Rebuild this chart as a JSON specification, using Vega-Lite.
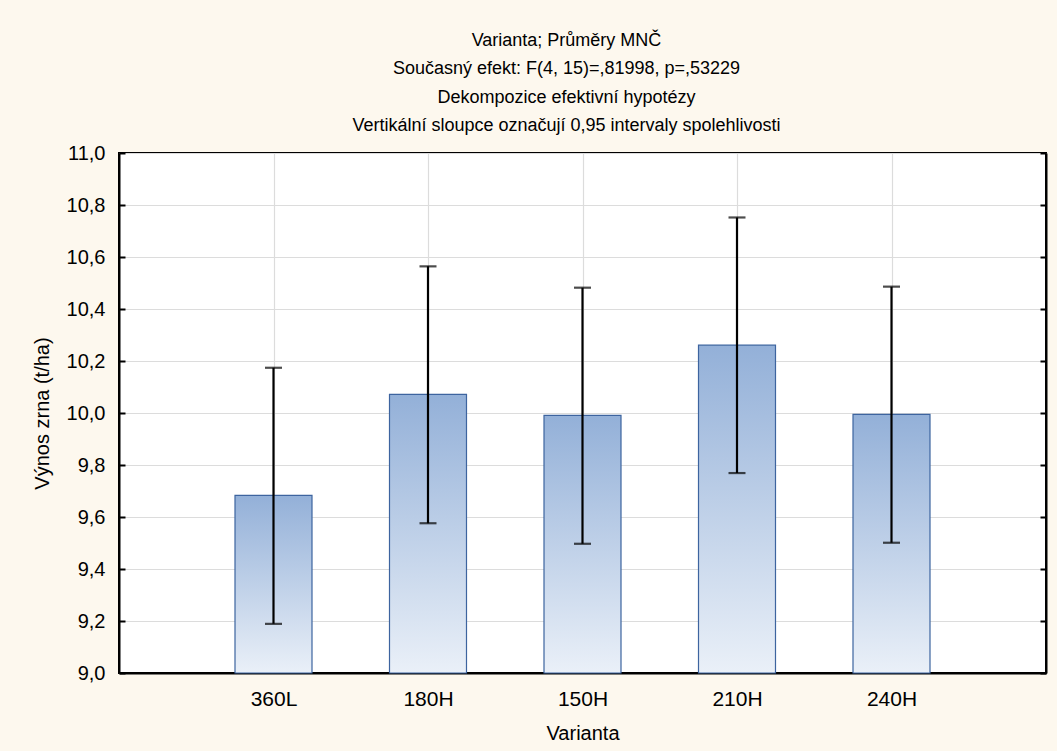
{
  "$schema": "https://vega.github.io/schema/vega-lite/v6.json",
  "width": 927,
  "height": 520,
  "autosize": {"type": "none"},
  "padding": {"left": 119, "top": 153, "right": 11, "bottom": 78},
  "background": "#fdf8ee",
  "title": {
    "text": ["Varianta; Průměry MNČ", "Současný efekt: F(4, 15)=,81998, p=,53229", "Dekompozice efektivní hypotézy", "Vertikální sloupce označují 0,95 intervaly spolehlivosti"],
    "font": "Liberation Sans",
    "fontSize": 18,
    "fontWeight": "normal",
    "color": "black",
    "lineHeight": 28.5,
    "anchor": "middle",
    "dx": -16,
    "offset": 8
  },
  "config": {
    "view": {"fill": "white", "stroke": "black", "strokeWidth": 2},
    "axis": {
      "labelFont": "Liberation Sans",
      "titleFont": "Liberation Sans",
      "labelFontSize": 20,
      "titleFontSize": 20,
      "titleFontWeight": "normal",
      "labelColor": "black",
      "titleColor": "black",
      "domainColor": "black",
      "domainWidth": 2,
      "tickColor": "black",
      "tickWidth": 2,
      "gridColor": "#dcdcdc",
      "gridWidth": 1.2
    }
  },
  "data": {
    "values": [
      {"Varianta": "360L", "mean": 9.683, "lower": 9.189, "upper": 10.174},
      {"Varianta": "180H", "mean": 10.072, "lower": 9.576, "upper": 10.564},
      {"Varianta": "150H", "mean": 9.991, "lower": 9.497, "upper": 10.482},
      {"Varianta": "210H", "mean": 10.261, "lower": 9.769, "upper": 10.752},
      {"Varianta": "240H", "mean": 9.995, "lower": 9.501, "upper": 10.486}
    ]
  },
  "encoding": {
    "x": {
      "field": "Varianta",
      "type": "nominal",
      "sort": null,
      "scale": {"type": "point", "padding": 1},
      "axis": {"title": "Varianta", "labelAngle": 0, "labelFontSize": 21, "grid": true, "tickSize": -6, "labelPadding": 21, "titlePadding": 14}
    }
  },
  "layer": [
    {
      "mark": {
        "type": "bar",
        "width": 77,
        "stroke": "#3d649f",
        "strokeWidth": 1.2,
        "color": {
          "gradient": "linear",
          "x1": 0, "y1": 1, "x2": 0, "y2": 0,
          "stops": [
            {"offset": 0, "color": "#eaf0f8"},
            {"offset": 1, "color": "#93b0d8"}
          ]
        }
      },
      "encoding": {
        "y": {
          "field": "mean",
          "type": "quantitative",
          "scale": {"domain": [9, 11], "zero": false, "nice": false},
          "axis": {
            "title": "Výnos zrna (t/ha)",
            "orient": "left",
            "values": [9, 9.2, 9.4, 9.6, 9.8, 10, 10.2, 10.4, 10.6, 10.8, 11],
            "labelExpr": "replace(format(datum.value, '.1f'), '.', ',')",
            "tickSize": -6,
            "labelPadding": 20,
            "titlePadding": 14,
            "grid": true
          }
        },
        "y2": {"datum": 9}
      }
    },
    {
      "mark": {"type": "rule", "color": "black", "strokeWidth": 2.2},
      "encoding": {
        "y": {
          "field": "lower",
          "type": "quantitative",
          "axis": {
            "orient": "right",
            "title": null,
            "labels": false,
            "grid": false,
            "values": [9, 9.2, 9.4, 9.6, 9.8, 10, 10.2, 10.4, 10.6, 10.8, 11],
            "tickSize": -6
          }
        },
        "y2": {"field": "upper"}
      }
    },
    {
      "mark": {"type": "tick", "orient": "horizontal", "color": "black", "size": 17, "thickness": 2.2},
      "encoding": {"y": {"field": "lower", "type": "quantitative", "axis": null}}
    },
    {
      "mark": {"type": "tick", "orient": "horizontal", "color": "black", "size": 17, "thickness": 2.2},
      "encoding": {"y": {"field": "upper", "type": "quantitative", "axis": null}}
    }
  ],
  "resolve": {"axis": {"y": "independent"}}
}
